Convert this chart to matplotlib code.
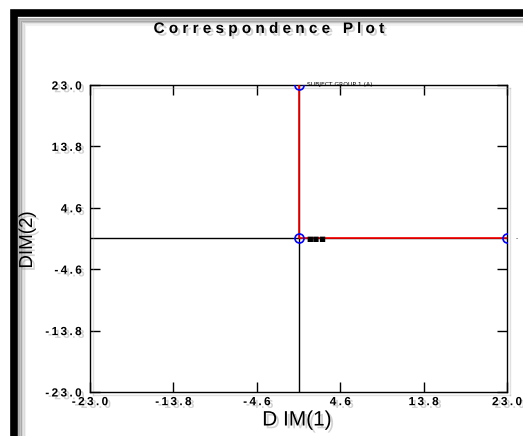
import matplotlib
matplotlib.use("Agg")
import matplotlib.pyplot as plt
import matplotlib.patheffects as pe
from matplotlib.patches import Rectangle

plt.rcParams['font.family'] = ['Liberation Sans', 'DejaVu Sans']

# correspondence coordinates
dim1 = [0.0, 0.0, 23.0]
dim2 = [23.0, 0.0, 0.0]
point_labels = ["SUBJECT GROUP 1 (A)", "\u25a0\u25a0\u25a0", "-"]
ticks = [-23.0, -13.8, -4.6, 4.6, 13.8, 23.0]
tick_labels = ["-23.0", "-13.8", "-4.6", "4.6", "13.8", "23.0"]

def spaced(s, sep=" "):
    return sep.join(s)

shadow = [pe.withSimplePatchShadow(offset=(2, -2), shadow_rgbFace='0.5', alpha=0.35)]

fig = plt.figure(figsize=(5.23, 4.36), dpi=100)
fig.patch.set_facecolor('white')

# outer frame with soft inner shadow
for i, a in enumerate([0.30, 0.22, 0.15, 0.09, 0.05]):
    off = 19 + i * 1.5
    fig.patches.append(Rectangle((off / 523, -0.05), 1.2, (436 - off) / 436 + 0.05,
                                 transform=fig.transFigure, fill=False,
                                 edgecolor='black', alpha=a, linewidth=1.5))
fig.patches.append(Rectangle((14 / 523, -0.05), 1.2, (436 - 13.5) / 436 + 0.05,
                             transform=fig.transFigure, fill=False,
                             edgecolor='black', linewidth=5.5))

ax = fig.add_axes([90 / 523, 44 / 436, 417 / 523, 307 / 436])
ax.set_xlim(-23, 23)
ax.set_ylim(-23, 23)

ax.axhline(0, color='black', lw=1)
ax.axvline(0, color='black', lw=1)

ax.plot(dim1, dim2, color='red', lw=1.2, zorder=3)
ax.plot(dim1, dim2, ls='none', marker='o', ms=6.5, mfc='none', mec='blue',
        mew=1.2, zorder=4)
sizes = [4.3, 5, 4.3]
for x, y, lab, s in zip(dim1, dim2, point_labels, sizes):
    ax.annotate(lab, (x, y), xytext=(6, 0), textcoords='offset points',
                fontsize=s, va='center', ha='left', color='black',
                family=['DejaVu Sans'], zorder=5, annotation_clip=False)

ax.set_xticks(ticks)
ax.set_yticks(ticks)
ax.set_xticklabels([spaced(t, "\u2009") for t in tick_labels])
ax.set_yticklabels([spaced(t, "\u2009") for t in tick_labels])
ax.tick_params(direction='in', length=7.5, width=1, top=True, right=True,
               labelsize=8.5, pad=3)
ax.tick_params(axis='y', pad=6)
for lab in ax.get_xticklabels() + ax.get_yticklabels():
    lab.set_fontweight('bold')
    lab.set_path_effects(shadow)
for sp in ax.spines.values():
    sp.set_linewidth(1)
    sp.set_path_effects([pe.SimpleLineShadow(offset=(2, -2), shadow_color='0.6', alpha=0.3), pe.Normal()])

fig.text(269 / 523, 1 - 29 / 436, spaced("Correspondence") + "   " + spaced("Plot"),
         ha='center', va='center', fontsize=11, fontweight='bold',
         path_effects=shadow)
fig.text(297 / 523, 1 - 420 / 436, "D IM(1)", ha='center', va='center',
         fontsize=15, path_effects=shadow)
fig.text(27.5 / 523, 1 - 240 / 436, "DIM(2)", ha='center', va='center',
         fontsize=13.5, rotation=90, path_effects=shadow)

fig.savefig("out.png", dpi=100)
